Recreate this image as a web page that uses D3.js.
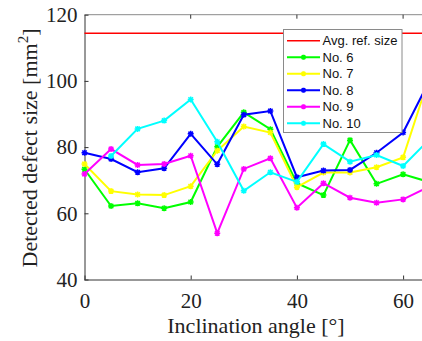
<!DOCTYPE html>
<html>
<head>
<meta charset="utf-8">
<script src="https://cdn.jsdelivr.net/npm/d3@7"></script>
<style>
  html, body { margin: 0; padding: 0; background: #fff; overflow: hidden; }
  svg { display: block; }
  .serif { font-family: 'Liberation Serif', 'DejaVu Serif', 'Times New Roman', Times, serif; }
  .sans { font-family: 'Liberation Sans', Arial, Helvetica, sans-serif; }
</style>
</head>
<body>
<div id="chart"></div>
<script>
// values
const angles = [0, 5, 10, 15, 20, 25, 30, 35, 40, 45, 50, 55, 60, 65];
const avgRefSize = 114.4;
const no6 = [73.3, 62.2, 63.0, 61.5, 63.4, 80.1, 90.5, 85.4, 69.1, 65.5, 82.1, 68.9, 71.8, 69.4];
const no7 = [74.9, 66.7, 65.7, 65.5, 68.2, 78.9, 86.2, 84.4, 67.9, 72.3, 72.3, 73.9, 76.9, 101.5];
const no8 = [78.3, 76.4, 72.4, 73.6, 84.0, 74.8, 89.8, 90.9, 70.9, 72.9, 73.1, 78.3, 84.4, 100.2];
const no9 = [71.9, 79.4, 74.6, 74.9, 77.4, 54.0, 73.4, 76.6, 61.7, 69.1, 64.7, 63.2, 64.2, 68.1];
const no10 = [null, 77.3, 85.5, 88.0, 94.4, 81.6, 66.8, 72.4, 69.5, 80.9, 75.6, 77.6, 74.3, 82.4];
const seriesNames = ['No. 6', 'No. 7', 'No. 8', 'No. 9', 'No. 10'];
const seriesColors = ['#00ff00', '#ffff00', '#0000ff', '#ff00ff', '#00ffff'];
const xTicks = [0, 20, 40, 60];
const yTicks = [40, 60, 80, 100, 120];

const W = 422, H = 341;
const plotLeft = 84.5, plotTop = 14.7, plotBottom = 279.5;

const svg = d3.select('#chart').append('svg')
  .attr('width', W)
  .attr('height', H);

// scales (plot area runs past the right edge, as in the cropped original)
const x = d3.scaleLinear().domain([0, 64]).range([plotLeft, plotLeft + 64 * 5.31]);
const y = d3.scaleLinear().domain([40, 120]).range([plotBottom, plotTop]);

// box: top edge and left/bottom axes
svg.append('line')
  .attr('x1', plotLeft).attr('x2', W).attr('y1', plotTop).attr('y2', plotTop)
  .attr('stroke', '#8a8a8a').attr('stroke-width', 1);

const xAxis = svg.append('g')
  .attr('transform', 'translate(0,' + plotBottom + ')')
  .call(d3.axisBottom(x).tickValues(xTicks).tickSizeInner(-4).tickSizeOuter(0).tickPadding(14));
const yAxis = svg.append('g')
  .attr('transform', 'translate(' + plotLeft + ',0)')
  .call(d3.axisLeft(y).tickValues(yTicks).tickSizeInner(-4).tickSizeOuter(0).tickPadding(7));

[xAxis, yAxis].forEach(g => {
  g.attr('font-family', null).attr('font-size', null);
  g.select('.domain').attr('stroke', '#333').attr('stroke-width', 1);
  g.selectAll('.tick line').attr('stroke', '#333');
  g.selectAll('.tick text')
    .attr('class', 'serif')
    .attr('fill', '#222')
    .attr('font-size', 21);
});
xAxis.select('.domain').attr('d', 'M' + plotLeft + ',0.5H' + W);
// ticks on the top edge as well
svg.append('g')
  .selectAll('line')
  .data(xTicks.filter(d => d > 0))
  .enter()
  .append('line')
  .attr('x1', d => x(d)).attr('x2', d => x(d))
  .attr('y1', plotTop).attr('y2', plotTop + 4)
  .attr('stroke', '#333');

// reference line
svg.append('line')
  .attr('x1', plotLeft).attr('x2', W)
  .attr('y1', y(avgRefSize)).attr('y2', y(avgRefSize))
  .attr('stroke', '#ff0000').attr('stroke-width', 1.5);

const allSeries = [no6, no7, no8, no9, no10];

const line = d3.line()
  .defined(d => d[1] !== null)
  .x(d => x(d[0]))
  .y(d => y(d[1]));

function asterisk(g, cx, cy, color, r) {
  const d = 'M' + (cx - r) + ',' + cy + 'H' + (cx + r) +
    'M' + cx + ',' + (cy - r) + 'V' + (cy + r) +
    'M' + (cx - r * 0.75) + ',' + (cy - r * 0.75) + 'L' + (cx + r * 0.75) + ',' + (cy + r * 0.75) +
    'M' + (cx - r * 0.75) + ',' + (cy + r * 0.75) + 'L' + (cx + r * 0.75) + ',' + (cy - r * 0.75);
  g.append('path').attr('d', d).attr('stroke', color).attr('stroke-width', 1.5).attr('fill', 'none');
}

allSeries.forEach((vals, i) => {
  const pts = angles.map((a, j) => [a, vals[j]]);
  const g = svg.append('g');
  g.append('path')
    .datum(pts)
    .attr('d', line)
    .attr('fill', 'none')
    .attr('stroke', seriesColors[i])
    .attr('stroke-width', 2);
  pts.filter(p => p[1] !== null).forEach(p => asterisk(g, x(p[0]), y(p[1]), seriesColors[i], 3));
});

// axis titles
svg.append('text')
  .attr('class', 'serif')
  .attr('x', 256).attr('y', 333)
  .attr('text-anchor', 'middle')
  .attr('fill', '#222')
  .attr('font-size', 22)
  .text('Inclination angle [°]');

const yt = svg.append('text')
  .attr('class', 'serif')
  .attr('transform', 'translate(37,148) rotate(-90)')
  .attr('text-anchor', 'middle')
  .attr('fill', '#222')
  .attr('font-size', 22);
yt.append('tspan').text('Detected defect size [mm');
yt.append('tspan').attr('dy', -9).attr('font-size', 15).text('2');
yt.append('tspan').attr('dy', 9).text(']');

// legend
const legend = svg.append('g');
legend.append('rect')
  .attr('x', 283.5).attr('y', 29.5)
  .attr('width', 118.5).attr('height', 103)
  .attr('fill', '#fff').attr('stroke', '#8a8a8a').attr('stroke-width', 1);

const legendNames = ['Avg. ref. size'].concat(seriesNames);
const legendColors = ['#ff0000'].concat(seriesColors);
const rowY = d3.scaleLinear().domain([0, 5]).range([40.7, 123.3]);

legendNames.forEach((name, i) => {
  const ly = rowY(i);
  legend.append('line')
    .attr('x1', 287).attr('x2', 320)
    .attr('y1', ly).attr('y2', ly)
    .attr('stroke', legendColors[i]).attr('stroke-width', i === 0 ? 1.5 : 2);
  if (i > 0) asterisk(legend, 303.5, ly, legendColors[i], 2.5);
  legend.append('text')
    .attr('class', 'sans')
    .attr('x', 322.5).attr('y', ly + 4.5)
    .attr('fill', '#111')
    .attr('font-size', 13)
    .text(name);
});
</script>
</body>
</html>
